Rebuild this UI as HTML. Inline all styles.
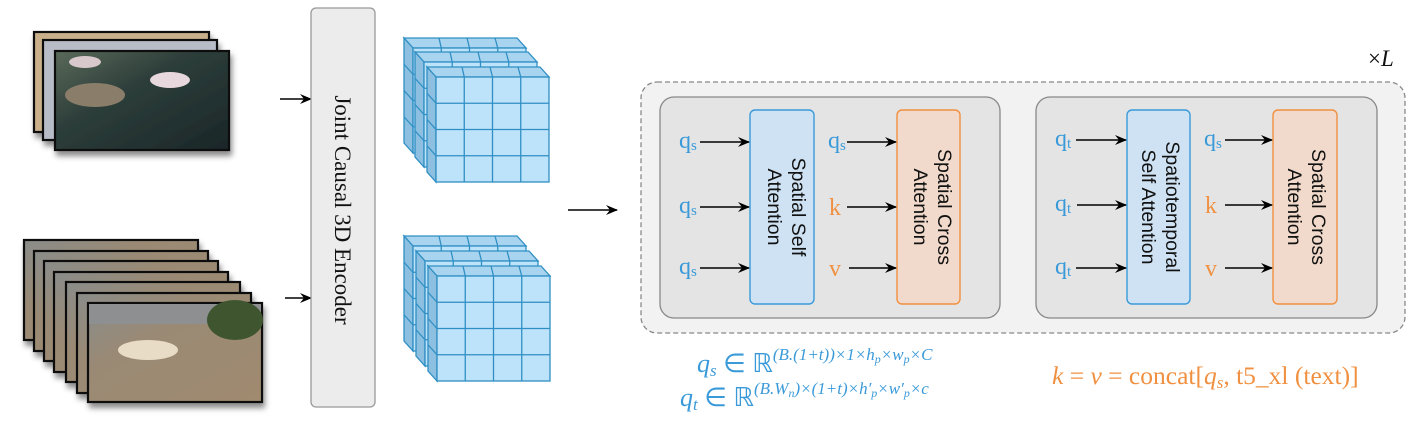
<!DOCTYPE html>
<html><head><meta charset="utf-8"><style>html,body{margin:0;padding:0;background:#fff}svg{display:block}</style></head>
<body>
<svg width="1416" height="423" viewBox="0 0 1416 423" xmlns="http://www.w3.org/2000/svg">
<defs>
<marker id="ar" markerWidth="12" markerHeight="10" refX="11" refY="5" orient="auto" markerUnits="userSpaceOnUse"><path d="M0,0 L12,5 L0,10 L4,5 Z" fill="#000"/></marker>
<linearGradient id="fl" x1="0" y1="0" x2="1" y2="1"><stop offset="0" stop-color="#5a6a5a"/><stop offset="0.4" stop-color="#2d3e3a"/><stop offset="1" stop-color="#1a2628"/></linearGradient>
<linearGradient id="dg" x1="0" y1="0" x2="1" y2="1"><stop offset="0" stop-color="#8a8c8a"/><stop offset="0.35" stop-color="#9a8a74"/><stop offset="1" stop-color="#a08a70"/></linearGradient>
<filter id="sh" x="-10%" y="-10%" width="130%" height="140%"><feDropShadow dx="2" dy="5" stdDeviation="3" flood-opacity="0.45"/></filter>
<g id="layer" stroke="#2f8fc4" stroke-width="1.3">
<polygon points="0,0 113,0 104,-10 -9,-10" fill="#a9d4ef"/>
<polygon points="0,0 -9,-10 -9,95 0,105" fill="#8cbfe0"/>
<rect x="0" y="0" width="113" height="105" fill="#bde3fb"/>
<path d="M28.25,0V105M56.5,0V105M84.75,0V105M0,26.25H113M0,52.5H113M0,78.75H113M26,-10L28.25,0M54,-10L56.5,0M82,-10L84.75,0M-9,16.25L0,26.25M-9,42.5L0,52.5M-9,68.75L0,78.75" fill="none"/>
</g>
</defs>

<g filter="url(#sh)" stroke="#111" stroke-width="2.2">
<rect x="34" y="32" width="175" height="100" fill="#c9b08a"/>
<rect x="43" y="40" width="174" height="100" fill="#b8bcc6"/>
<rect x="55" y="51" width="174" height="99" fill="url(#fl)"/>
</g>
<ellipse cx="170" cy="80" rx="20" ry="8" fill="#e6d8dc"/>
<ellipse cx="85" cy="62" rx="16" ry="6" fill="#d8c8cc"/>
<ellipse cx="95" cy="95" rx="30" ry="12" fill="#8a7e6a"/>
<g filter="url(#sh)" stroke="#111" stroke-width="2.2" fill="url(#dg)">
<rect x="24" y="240" width="174" height="100"/>
<rect x="34" y="251" width="174" height="100"/>
<rect x="44" y="261" width="174" height="100"/>
<rect x="54" y="272" width="174" height="100"/>
<rect x="66" y="282" width="174" height="100"/>
<rect x="77" y="293" width="174" height="100"/>
<rect x="88" y="303" width="174" height="99"/>
</g>
<rect x="89" y="304" width="172" height="20" fill="#8d8f90"/>
<ellipse cx="235" cy="320" rx="28" ry="20" fill="#3f5530"/>
<ellipse cx="148" cy="350" rx="30" ry="10" fill="#e8dcc6"/>

<line x1="280" y1="99" x2="311" y2="99" stroke="#000" stroke-width="1.6" marker-end="url(#ar)"/>
<line x1="285" y1="298" x2="311" y2="298" stroke="#000" stroke-width="1.6" marker-end="url(#ar)"/>
<rect x="311" y="8" width="64" height="399" rx="5" fill="#ececec" stroke="#999" stroke-width="1.3"/>
<text transform="translate(335,210) rotate(90)" text-anchor="middle" font-family="Liberation Serif, serif" font-size="23" fill="#111">Joint Causal 3D Encoder</text>

<use href="#layer" x="413" y="48"/>
<use href="#layer" x="424" y="62"/>
<use href="#layer" x="436" y="77"/>
<use href="#layer" x="413" y="246"/>
<use href="#layer" x="425" y="261"/>
<use href="#layer" x="437" y="276"/>

<line x1="568" y1="210" x2="617" y2="210" stroke="#000" stroke-width="1.6" marker-end="url(#ar)"/>

<rect x="641" y="82" width="764" height="251" rx="16" fill="#f2f2f2" stroke="#888" stroke-width="1.3" stroke-dasharray="5,3"/>
<text x="1368" y="66" font-family="Liberation Serif, serif" font-size="23" fill="#111">×<tspan font-style="italic">L</tspan></text>

<g font-family="Liberation Serif, serif" font-size="24">
<rect x="660" y="97" width="340" height="221" rx="14" fill="#e4e4e4" stroke="#888" stroke-width="1.3"/>
<rect x="750" y="110" width="64" height="194" rx="5" fill="#cfe2f3" stroke="#3a9ad9" stroke-width="1.4"/>
<rect x="897" y="110" width="63" height="194" rx="5" fill="#f1dacb" stroke="#f09040" stroke-width="1.4"/>
<g stroke="#000" stroke-width="1.6">
<line x1="700" y1="142" x2="749" y2="142" marker-end="url(#ar)"/>
<line x1="700" y1="207" x2="749" y2="207" marker-end="url(#ar)"/>
<line x1="700" y1="268" x2="749" y2="268" marker-end="url(#ar)"/>
<line x1="847" y1="142" x2="896" y2="142" marker-end="url(#ar)"/>
<line x1="847" y1="207" x2="896" y2="207" marker-end="url(#ar)"/>
<line x1="849" y1="268" x2="896" y2="268" marker-end="url(#ar)"/>
</g>
<g fill="#3a9ad9">
<text x="679" y="148">q<tspan font-size="15" dy="2">s</tspan></text>
<text x="679" y="213">q<tspan font-size="15" dy="2">s</tspan></text>
<text x="679" y="274">q<tspan font-size="15" dy="2">s</tspan></text>
<text x="828" y="148">q<tspan font-size="15" dy="2">s</tspan></text>
</g>
<g fill="#f09040"><text x="829" y="215">k</text><text x="829" y="276">v</text></g>
<g font-family="Liberation Sans, sans-serif" font-size="19.5" fill="#111" text-anchor="middle">
<text transform="translate(786,207) rotate(90)"><tspan x="0" y="-6">Spatial Self</tspan><tspan x="0" y="18">Attention</tspan></text>
<text transform="translate(932,207) rotate(90)"><tspan x="0" y="-6">Spatial Cross</tspan><tspan x="0" y="18">Attention</tspan></text>
</g>

<rect x="1036" y="97" width="341" height="221" rx="14" fill="#e4e4e4" stroke="#888" stroke-width="1.3"/>
<rect x="1127" y="110" width="63" height="194" rx="5" fill="#cfe2f3" stroke="#3a9ad9" stroke-width="1.4"/>
<rect x="1273" y="110" width="64" height="194" rx="5" fill="#f1dacb" stroke="#f09040" stroke-width="1.4"/>
<g stroke="#000" stroke-width="1.6">
<line x1="1076" y1="140" x2="1126" y2="140" marker-end="url(#ar)"/>
<line x1="1077" y1="205" x2="1126" y2="205" marker-end="url(#ar)"/>
<line x1="1076" y1="268" x2="1126" y2="268" marker-end="url(#ar)"/>
<line x1="1225" y1="140" x2="1272" y2="140" marker-end="url(#ar)"/>
<line x1="1225" y1="205" x2="1272" y2="205" marker-end="url(#ar)"/>
<line x1="1225" y1="268" x2="1272" y2="268" marker-end="url(#ar)"/>
</g>
<g fill="#3a9ad9">
<text x="1055" y="146">q<tspan font-size="15" dy="2">t</tspan></text>
<text x="1055" y="211">q<tspan font-size="15" dy="2">t</tspan></text>
<text x="1055" y="274">q<tspan font-size="15" dy="2">t</tspan></text>
<text x="1204" y="146">q<tspan font-size="15" dy="2">s</tspan></text>
</g>
<g fill="#f09040"><text x="1205" y="213">k</text><text x="1205" y="276">v</text></g>
<g font-family="Liberation Sans, sans-serif" font-size="19.5" fill="#111" text-anchor="middle">
<text transform="translate(1160,207) rotate(90)"><tspan x="0" y="-6">Spatiotemporal</tspan><tspan x="0" y="18">Self Attention</tspan></text>
<text transform="translate(1306,207) rotate(90)"><tspan x="0" y="-6">Spatial Cross</tspan><tspan x="0" y="18">Attention</tspan></text>
</g>
</g>

<g font-family="Liberation Serif, serif" fill="#3a9ad9">
<text x="697" y="372" font-size="26"><tspan font-style="italic">q<tspan font-size="17" dy="4">s</tspan></tspan><tspan dy="-4"> ∈ ℝ</tspan><tspan font-size="17" dy="-12" font-style="italic">(B.(1+t))×1×h<tspan font-size="12" dy="3">p</tspan><tspan dy="-3">×w</tspan><tspan font-size="12" dy="3">p</tspan><tspan dy="-3">×C</tspan></tspan></text>
<text x="680" y="406" font-size="26"><tspan font-style="italic">q<tspan font-size="17" dy="4">t</tspan></tspan><tspan dy="-4">  ∈ ℝ</tspan><tspan font-size="17" dy="-12" font-style="italic">(B.W<tspan font-size="12" dy="3">n</tspan><tspan dy="-3">)×(1+t)×h′</tspan><tspan font-size="12" dy="3">p</tspan><tspan dy="-3">×w′</tspan><tspan font-size="12" dy="3">p</tspan><tspan dy="-3">×c</tspan></tspan></text>
</g>
<text x="1052" y="384" font-family="Liberation Serif, serif" font-size="25.5" fill="#f09040"><tspan font-style="italic">k</tspan> = <tspan font-style="italic">v</tspan> = concat[<tspan font-style="italic">q<tspan font-size="17" dy="4">s</tspan></tspan><tspan dy="-4">, t5_xl (text)]</tspan></text>
</svg>
</body></html>
